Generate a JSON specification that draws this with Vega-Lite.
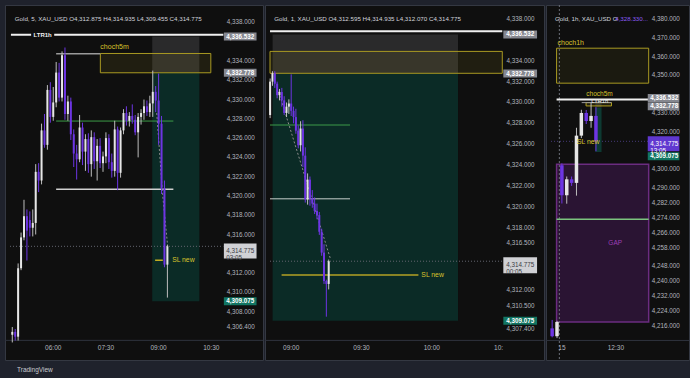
{
"$schema":"https://vega.github.io/schema/vega-lite/v6.json",
"background":"#1f222c",
"padding":{"left":4,"top":4,"right":2,"bottom":8},
"title":{"text":"TradingView","orient":"bottom","anchor":"start","offset":6,"dx":13,"fontSize":6.5,"fontWeight":"normal","color":"#c8cad0","font":"Liberation Sans"},
"spacing":2,
"bounds":"flush",
"datasets":{
"c1":[
{"m":290,"o":4305.6,"h":4306.4,"l":4304.8,"c":4305.9},
{"m":295,"o":4305.9,"h":4306.2,"l":4305.0,"c":4305.4},
{"m":300,"o":4305.4,"h":4313.0,"l":4305.0,"c":4312.5},
{"m":305,"o":4312.5,"h":4316.2,"l":4312.3,"c":4315.7},
{"m":310,"o":4315.7,"h":4319.6,"l":4315.4,"c":4317.9},
{"m":315,"o":4317.9,"h":4318.6,"l":4313.3,"c":4316.4},
{"m":320,"o":4317.5,"h":4318.4,"l":4315.8,"c":4316.7},
{"m":325,"o":4316.7,"h":4318.6,"l":4315.8,"c":4317.2},
{"m":330,"o":4317.2,"h":4323.3,"l":4316.0,"c":4322.5},
{"m":335,"o":4322.5,"h":4323.4,"l":4320.4,"c":4321.6},
{"m":340,"o":4321.6,"h":4327.5,"l":4321.2,"c":4326.8},
{"m":345,"o":4326.8,"h":4328.5,"l":4325.0,"c":4325.3},
{"m":350,"o":4325.3,"h":4331.5,"l":4324.8,"c":4331.0},
{"m":355,"o":4331.0,"h":4331.8,"l":4327.6,"c":4328.2},
{"m":360,"o":4328.2,"h":4331.3,"l":4327.8,"c":4329.7},
{"m":365,"o":4329.7,"h":4333.9,"l":4329.2,"c":4332.8},
{"m":370,"o":4332.8,"h":4333.8,"l":4329.8,"c":4330.2},
{"m":375,"o":4330.2,"h":4335.0,"l":4329.8,"c":4334.6},
{"m":380,"o":4334.6,"h":4335.4,"l":4327.9,"c":4328.5},
{"m":385,"o":4328.5,"h":4330.4,"l":4327.8,"c":4329.8},
{"m":390,"o":4329.8,"h":4330.2,"l":4325.8,"c":4326.4},
{"m":395,"o":4326.4,"h":4326.9,"l":4323.0,"c":4324.4},
{"m":400,"o":4324.4,"h":4325.3,"l":4321.7,"c":4323.8},
{"m":405,"o":4323.8,"h":4328.4,"l":4323.5,"c":4327.1},
{"m":410,"o":4327.1,"h":4327.6,"l":4323.2,"c":4324.6},
{"m":415,"o":4324.6,"h":4326.4,"l":4322.6,"c":4325.9},
{"m":420,"o":4325.9,"h":4326.5,"l":4322.4,"c":4323.3},
{"m":425,"o":4323.3,"h":4326.8,"l":4322.0,"c":4326.1},
{"m":430,"o":4326.1,"h":4326.6,"l":4322.8,"c":4323.6},
{"m":435,"o":4323.6,"h":4325.9,"l":4321.6,"c":4325.2},
{"m":440,"o":4325.2,"h":4326.0,"l":4322.9,"c":4323.4},
{"m":445,"o":4323.4,"h":4324.6,"l":4322.5,"c":4324.1},
{"m":450,"o":4324.1,"h":4326.6,"l":4323.4,"c":4326.0},
{"m":455,"o":4326.0,"h":4326.4,"l":4322.8,"c":4323.5},
{"m":460,"o":4323.5,"h":4324.4,"l":4321.9,"c":4322.6},
{"m":465,"o":4322.6,"h":4327.8,"l":4322.0,"c":4326.9},
{"m":470,"o":4326.9,"h":4327.2,"l":4320.6,"c":4322.4},
{"m":475,"o":4322.4,"h":4327.1,"l":4321.9,"c":4326.8},
{"m":480,"o":4326.8,"h":4329.0,"l":4326.4,"c":4328.6},
{"m":485,"o":4328.6,"h":4329.3,"l":4327.3,"c":4327.8},
{"m":490,"o":4327.8,"h":4328.7,"l":4327.2,"c":4328.3},
{"m":495,"o":4328.3,"h":4329.5,"l":4327.5,"c":4327.9},
{"m":500,"o":4327.9,"h":4328.4,"l":4326.3,"c":4326.6},
{"m":505,"o":4326.6,"h":4328.6,"l":4324.0,"c":4328.2},
{"m":510,"o":4328.2,"h":4329.0,"l":4327.4,"c":4328.6},
{"m":515,"o":4328.6,"h":4330.0,"l":4327.9,"c":4329.3},
{"m":520,"o":4329.3,"h":4329.9,"l":4328.3,"c":4328.7},
{"m":525,"o":4328.7,"h":4330.4,"l":4328.2,"c":4329.6},
{"m":530,"o":4329.6,"h":4333.0,"l":4328.2,"c":4330.8},
{"m":535,"o":4330.8,"h":4331.4,"l":4328.7,"c":4329.9},
{"m":540,"o":4329.9,"h":4332.7,"l":4325.3,"c":4327.5},
{"m":545,"o":4327.5,"h":4328.3,"l":4320.2,"c":4320.8},
{"m":550,"o":4320.8,"h":4321.6,"l":4312.6,"c":4312.875},
{"m":555,"o":4312.875,"h":4314.935,"l":4309.455,"c":4314.775}
],
"c2":[
{"m":531,"o":4328.8,"h":4332.3,"l":4328.5,"c":4332.0},
{"m":532,"o":4332.0,"h":4333.0,"l":4331.6,"c":4332.8},
{"m":533,"o":4332.8,"h":4333.0,"l":4331.4,"c":4331.8},
{"m":534,"o":4331.8,"h":4332.0,"l":4330.4,"c":4330.7},
{"m":535,"o":4330.7,"h":4331.3,"l":4330.2,"c":4331.0},
{"m":536,"o":4331.0,"h":4331.4,"l":4329.6,"c":4330.2},
{"m":537,"o":4330.2,"h":4330.6,"l":4328.8,"c":4329.0},
{"m":538,"o":4329.0,"h":4330.0,"l":4328.6,"c":4329.6},
{"m":539,"o":4329.6,"h":4330.3,"l":4328.9,"c":4329.9},
{"m":540,"o":4329.9,"h":4332.7,"l":4328.7,"c":4329.2},
{"m":541,"o":4329.2,"h":4329.6,"l":4328.0,"c":4328.6},
{"m":542,"o":4328.6,"h":4329.4,"l":4327.0,"c":4327.3},
{"m":543,"o":4327.3,"h":4327.8,"l":4325.6,"c":4325.9},
{"m":544,"o":4325.9,"h":4328.2,"l":4325.3,"c":4327.5},
{"m":545,"o":4327.5,"h":4328.3,"l":4323.8,"c":4324.9},
{"m":546,"o":4324.9,"h":4325.7,"l":4320.4,"c":4320.7},
{"m":547,"o":4320.7,"h":4323.2,"l":4320.2,"c":4322.6},
{"m":548,"o":4322.6,"h":4322.9,"l":4320.1,"c":4320.8},
{"m":549,"o":4320.8,"h":4321.6,"l":4319.9,"c":4320.3},
{"m":550,"o":4320.3,"h":4320.9,"l":4319.3,"c":4319.6},
{"m":551,"o":4319.6,"h":4320.3,"l":4318.8,"c":4319.2},
{"m":552,"o":4319.2,"h":4319.5,"l":4317.3,"c":4317.6},
{"m":553,"o":4317.6,"h":4317.9,"l":4315.3,"c":4315.6},
{"m":554,"o":4315.6,"h":4316.4,"l":4312.6,"c":4312.875},
{"m":555,"o":4312.875,"h":4313.0,"l":4309.455,"c":4312.595},
{"m":556,"o":4312.595,"h":4314.935,"l":4312.07,"c":4314.775}
],
"c3":[
{"m":-2,"o":4215.0,"h":4219.5,"l":4210.2,"c":4210.8},
{"m":-1,"o":4210.8,"h":4219.0,"l":4209.8,"c":4218.4},
{"m":0,"o":4302.0,"h":4303.0,"l":4281.6,"c":4286.0},
{"m":1,"o":4286.0,"h":4296.0,"l":4281.5,"c":4294.5},
{"m":2,"o":4294.5,"h":4296.0,"l":4291.0,"c":4292.6},
{"m":3,"o":4292.6,"h":4322.0,"l":4285.8,"c":4317.8},
{"m":4,"o":4317.8,"h":4331.6,"l":4316.5,"c":4329.9},
{"m":5,"o":4329.9,"h":4331.5,"l":4324.0,"c":4325.6},
{"m":6,"o":4325.6,"h":4335.4,"l":4322.0,"c":4328.33},
{"m":7,"o":4328.33,"h":4333.0,"l":4309.455,"c":4314.775}
]
},
"hconcat":[
{
"width":258,"height":355,
"layer":[
{"data":{"values":[{"a":529.1,"b":609.6,"lo":4332.778,"hi":4336.532}]},"mark":{"type":"rect","color":"#2a2a2b"},
 "encoding":{"x":{"field":"a","type":"quantitative","scale":{"domain":[286.1,709.8],"nice":false,"zero":false},"axis":null},"x2":{"field":"b"},"y":{"field":"lo","type":"quantitative","scale":{"domain":[4303.5,4339.29],"nice":false,"zero":false},"axis":null},"y2":{"field":"hi"}}},
{"data":{"values":[{"a":529.1,"b":609.6,"lo":4309.075,"hi":4332.778}]},"mark":{"type":"rect","color":"#0b2b26"},
 "encoding":{"x":{"field":"a","type":"quantitative","scale":{"domain":[286.1,709.8],"nice":false,"zero":false},"axis":null},"x2":{"field":"b"},"y":{"field":"lo","type":"quantitative","scale":{"domain":[4303.5,4339.29],"nice":false,"zero":false},"axis":null},"y2":{"field":"hi"}}},
{"data":{"values":[{"a":440.45,"b":629.2,"lo":4332.778,"hi":4334.78}]},"mark":{"type":"rect","fill":"#b8a52a","fillOpacity":0.1,"stroke":"#a99a22","strokeWidth":1},
 "encoding":{"x":{"field":"a","type":"quantitative","scale":{"domain":[286.1,709.8],"nice":false,"zero":false},"axis":null},"x2":{"field":"b"},"y":{"field":"lo","type":"quantitative","scale":{"domain":[4303.5,4339.29],"nice":false,"zero":false},"axis":null},"y2":{"field":"hi"}}},
{"data":{"values":[{}]},"mark":{"type":"rule","color":"#2f333e","strokeWidth":1},
 "encoding":{"y":{"datum":4305.02,"type":"quantitative","scale":{"domain":[4303.5,4339.29],"nice":false,"zero":false},"axis":null}}},
{"data":{"values":[{"a":287.7,"b":650.6,"v":4336.72}]},"mark":{"type":"rule","color":"#f0f0f0","strokeWidth":2},
 "encoding":{"x":{"field":"a","type":"quantitative","scale":{"domain":[286.1,709.8],"nice":false,"zero":false},"axis":null},"x2":{"field":"b"},"y":{"field":"v","type":"quantitative","scale":{"domain":[4303.5,4339.29],"nice":false,"zero":false},"axis":null}}},
{"data":{"values":[{"a":364.9,"b":440.45,"v":4334.75}]},"mark":{"type":"rule","color":"#9a9a9a","strokeWidth":1.5},
 "encoding":{"x":{"field":"a","type":"quantitative","scale":{"domain":[286.1,709.8],"nice":false,"zero":false},"axis":null},"x2":{"field":"b"},"y":{"field":"v","type":"quantitative","scale":{"domain":[4303.5,4339.29],"nice":false,"zero":false},"axis":null}}},
{"data":{"values":[{"a":364.9,"b":565.2,"v":4327.77}]},"mark":{"type":"rule","color":"#3c9b48","strokeWidth":1},
 "encoding":{"x":{"field":"a","type":"quantitative","scale":{"domain":[286.1,709.8],"nice":false,"zero":false},"axis":null},"x2":{"field":"b"},"y":{"field":"v","type":"quantitative","scale":{"domain":[4303.5,4339.29],"nice":false,"zero":false},"axis":null}}},
{"data":{"values":[{"a":364.9,"b":565.2,"v":4320.69}]},"mark":{"type":"rule","color":"#d0d0d0","strokeWidth":1.5},
 "encoding":{"x":{"field":"a","type":"quantitative","scale":{"domain":[286.1,709.8],"nice":false,"zero":false},"axis":null},"x2":{"field":"b"},"y":{"field":"v","type":"quantitative","scale":{"domain":[4303.5,4339.29],"nice":false,"zero":false},"axis":null}}},
{"data":{"values":[{"a":286.1,"b":650.6,"v":4314.775}]},"mark":{"type":"rule","color":"#62656f","strokeWidth":1,"strokeDash":[1,2]},
 "encoding":{"x":{"field":"a","type":"quantitative","scale":{"domain":[286.1,709.8],"nice":false,"zero":false},"axis":null},"x2":{"field":"b"},"y":{"field":"v","type":"quantitative","scale":{"domain":[4303.5,4339.29],"nice":false,"zero":false},"axis":null}}},
{"data":{"values":[{"a":534.0,"b":547.2,"v":4313.33}]},"mark":{"type":"rule","color":"#c2ad22","strokeWidth":1.5},
 "encoding":{"x":{"field":"a","type":"quantitative","scale":{"domain":[286.1,709.8],"nice":false,"zero":false},"axis":null},"x2":{"field":"b"},"y":{"field":"v","type":"quantitative","scale":{"domain":[4303.5,4339.29],"nice":false,"zero":false},"axis":null}}},
{"data":{"values":[{"m":536.8,"v":4328.6},{"m":546.7,"v":4320.24},{"m":555.4,"v":4314.82}]},"mark":{"type":"line","color":"#8c8c8c","strokeWidth":1,"strokeDash":[2,2]},
 "encoding":{"x":{"field":"m","type":"quantitative","scale":{"domain":[286.1,709.8],"nice":false,"zero":false},"axis":null},"y":{"field":"v","type":"quantitative","scale":{"domain":[4303.5,4339.29],"nice":false,"zero":false},"axis":null}}},
{"data":{"name":"c1"},"mark":{"type":"rule","strokeWidth":1},
 "encoding":{"x":{"field":"m","type":"quantitative","scale":{"domain":[286.1,709.8],"nice":false,"zero":false},"axis":null},
  "y":{"field":"l","type":"quantitative","scale":{"domain":[4303.5,4339.29],"nice":false,"zero":false},"axis":null},
  "y2":{"field":"h"},
  "color":{"condition":{"test":"datum.c >= datum.o","value":"#bdbdbd"},"value":"#6d35e3"}}},
{"data":{"name":"c1"},"mark":{"type":"bar","width":2},
 "encoding":{"x":{"field":"m","type":"quantitative","scale":{"domain":[286.1,709.8],"nice":false,"zero":false},"axis":null},"y":{"field":"o","type":"quantitative","scale":{"domain":[4303.5,4339.29],"nice":false,"zero":false},"axis":null},"y2":{"field":"c"},
  "color":{"condition":{"test":"datum.c >= datum.o","value":"#e6e6e6"},"value":"#6d35e3"}}},
{"data":{"values":[{"p":4338},{"p":4334},{"p":4332},{"p":4330},{"p":4328},{"p":4326},{"p":4324},{"p":4322},{"p":4320},{"p":4318},{"p":4316},{"p":4312},{"p":4310},{"p":4308},{"p":4306.4}]},
 "mark":{"type":"text","align":"left","baseline":"middle","color":"#b2b5be","fontSize":6.3,"font":"Liberation Sans"},
 "encoding":{"x":{"datum":656.4,"type":"quantitative","scale":{"domain":[286.1,709.8],"nice":false,"zero":false},"axis":null},"y":{"field":"p","type":"quantitative","scale":{"domain":[4303.5,4339.29],"nice":false,"zero":false},"axis":null},"text":{"field":"p","type":"quantitative","format":",.3f"}}},
{"data":{"values":[{"t":360,"s":"06:00"},{"t":450,"s":"07:30"},{"t":540,"s":"09:00"},{"t":630,"s":"10:30"}]},
 "mark":{"type":"text","align":"center","baseline":"middle","color":"#b2b5be","fontSize":6.5,"font":"Liberation Sans"},
 "encoding":{"x":{"field":"t","type":"quantitative","scale":{"domain":[286.1,709.8],"nice":false,"zero":false},"axis":null},"y":{"datum":4304.21,"type":"quantitative","scale":{"domain":[4303.5,4339.29],"nice":false,"zero":false},"axis":null},"text":{"field":"s"}}},
{"data":{"values":[{}]},"mark":{"type":"text","text":"choch5m","align":"left","baseline":"middle","color":"#d9c42c","fontSize":7,"font":"Liberation Sans"},
 "encoding":{"x":{"datum":440.45,"type":"quantitative","scale":{"domain":[286.1,709.8],"nice":false,"zero":false},"axis":null},"y":{"datum":4335.46,"type":"quantitative","scale":{"domain":[4303.5,4339.29],"nice":false,"zero":false},"axis":null}}},
{"data":{"values":[{}]},"mark":{"type":"text","text":"SL new","align":"left","baseline":"middle","color":"#d9c42c","fontSize":6.8,"font":"Liberation Sans"},
 "encoding":{"x":{"datum":563.1,"type":"quantitative","scale":{"domain":[286.1,709.8],"nice":false,"zero":false},"axis":null},"y":{"datum":4313.33,"type":"quantitative","scale":{"domain":[4303.5,4339.29],"nice":false,"zero":false},"axis":null}}},
{"data":{"values":[{}]},"mark":{"type":"bar","height":8,"color":"#0f0f0f"},
 "encoding":{"x":{"datum":322.2,"type":"quantitative","scale":{"domain":[286.1,709.8],"nice":false,"zero":false},"axis":null},"x2":{"datum":361.6},"y":{"datum":4336.72,"type":"quantitative","scale":{"domain":[4303.5,4339.29],"nice":false,"zero":false},"axis":null}}},
{"data":{"values":[{}]},"mark":{"type":"text","text":"LTR1h","align":"center","baseline":"middle","color":"#f0f0f0","fontSize":6,"fontWeight":"bold","font":"Liberation Sans"},
 "encoding":{"x":{"datum":341.9,"type":"quantitative","scale":{"domain":[286.1,709.8],"nice":false,"zero":false},"axis":null},"y":{"datum":4336.72,"type":"quantitative","scale":{"domain":[4303.5,4339.29],"nice":false,"zero":false},"axis":null}}},
{"data":{"values":[{"v":4336.532},{"v":4332.778}]},"mark":{"type":"bar","height":8,"color":"#85878f"},
 "encoding":{"x":{"datum":651.5,"type":"quantitative","scale":{"domain":[286.1,709.8],"nice":false,"zero":false},"axis":null},"x2":{"datum":707.3},"y":{"field":"v","type":"quantitative","scale":{"domain":[4303.5,4339.29],"nice":false,"zero":false},"axis":null}}},
{"data":{"values":[{"v":4314.29}]},"mark":{"type":"bar","height":15,"color":"#d0d1d5"},
 "encoding":{"x":{"datum":651.5,"type":"quantitative","scale":{"domain":[286.1,709.8],"nice":false,"zero":false},"axis":null},"x2":{"datum":707.3},"y":{"field":"v","type":"quantitative","scale":{"domain":[4303.5,4339.29],"nice":false,"zero":false},"axis":null}}},
{"data":{"values":[{"v":4309.075}]},"mark":{"type":"bar","height":8,"color":"#127562"},
 "encoding":{"x":{"datum":651.5,"type":"quantitative","scale":{"domain":[286.1,709.8],"nice":false,"zero":false},"axis":null},"x2":{"datum":707.3},"y":{"field":"v","type":"quantitative","scale":{"domain":[4303.5,4339.29],"nice":false,"zero":false},"axis":null}}},
{"data":{"values":[{"v":4336.532,"t":"4,336.532"},{"v":4332.778,"t":"4,332.778"},{"v":4309.075,"t":"4,309.075"}]},"mark":{"type":"text","align":"left","baseline":"middle","color":"#ffffff","fontSize":6.3,"fontWeight":"bold","font":"Liberation Sans"},
 "encoding":{"x":{"datum":655.6,"type":"quantitative","scale":{"domain":[286.1,709.8],"nice":false,"zero":false},"axis":null},"y":{"field":"v","type":"quantitative","scale":{"domain":[4303.5,4339.29],"nice":false,"zero":false},"axis":null},"text":{"field":"t"}}},
{"data":{"values":[{}]},"mark":{"type":"text","text":["4,314.775","03:05"],"lineHeight":7,"align":"left","baseline":"middle","color":"#3a3c44","fontSize":6.3,"font":"Liberation Sans"},
 "encoding":{"x":{"datum":655.6,"type":"quantitative","scale":{"domain":[286.1,709.8],"nice":false,"zero":false},"axis":null},"y":{"datum":4314.29,"type":"quantitative","scale":{"domain":[4303.5,4339.29],"nice":false,"zero":false},"axis":null}}},
{"data":{"values":[{}]},"mark":{"type":"text","text":"Gold, 5, XAU_USD O4,312.875 H4,314.935 L4,309.455 C4,314.775","align":"left","baseline":"middle","color":"#d1d4dc","fontSize":6.2,"font":"Liberation Sans"},
 "encoding":{"x":{"datum":294.3,"type":"quantitative","scale":{"domain":[286.1,709.8],"nice":false,"zero":false},"axis":null},"y":{"datum":4338.35,"type":"quantitative","scale":{"domain":[4303.5,4339.29],"nice":false,"zero":false},"axis":null}}}
]
},
{
"width":279,"height":355,
"layer":[
{"data":{"values":[{"a":532.06,"b":611.2,"lo":4332.778,"hi":4336.532}]},"mark":{"type":"rect","color":"#2a2a2b"},
 "encoding":{"x":{"field":"a","type":"quantitative","scale":{"domain":[530.95,645.77],"nice":false,"zero":false},"axis":null},"x2":{"field":"b"},"y":{"field":"lo","type":"quantitative","scale":{"domain":[4305.78,4338.87],"nice":false,"zero":false},"axis":null},"y2":{"field":"hi"}}},
{"data":{"values":[{"a":532.06,"b":611.2,"lo":4309.075,"hi":4332.778}]},"mark":{"type":"rect","color":"#0b2b26"},
 "encoding":{"x":{"field":"a","type":"quantitative","scale":{"domain":[530.95,645.77],"nice":false,"zero":false},"axis":null},"x2":{"field":"b"},"y":{"field":"lo","type":"quantitative","scale":{"domain":[4305.78,4338.87],"nice":false,"zero":false},"axis":null},"y2":{"field":"hi"}}},
{"data":{"values":[{"a":530.95,"b":630.1,"lo":4332.8,"hi":4334.9}]},"mark":{"type":"rect","fill":"#b8a52a","fillOpacity":0.1,"stroke":"#a99a22","strokeWidth":1},
 "encoding":{"x":{"field":"a","type":"quantitative","scale":{"domain":[530.95,645.77],"nice":false,"zero":false},"axis":null},"x2":{"field":"b"},"y":{"field":"lo","type":"quantitative","scale":{"domain":[4305.78,4338.87],"nice":false,"zero":false},"axis":null},"y2":{"field":"hi"}}},
{"data":{"values":[{}]},"mark":{"type":"rule","color":"#2f333e","strokeWidth":1},
 "encoding":{"y":{"datum":4307.18,"type":"quantitative","scale":{"domain":[4305.78,4338.87],"nice":false,"zero":false},"axis":null}}},
{"data":{"values":[{"a":530.95,"b":630.1,"v":4336.82}]},"mark":{"type":"rule","color":"#f0f0f0","strokeWidth":2},
 "encoding":{"x":{"field":"a","type":"quantitative","scale":{"domain":[530.95,645.77],"nice":false,"zero":false},"axis":null},"x2":{"field":"b"},"y":{"field":"v","type":"quantitative","scale":{"domain":[4305.78,4338.87],"nice":false,"zero":false},"axis":null}}},
{"data":{"values":[{"a":530.95,"b":565.1,"v":4327.84}]},"mark":{"type":"rule","color":"#3c9b48","strokeWidth":1},
 "encoding":{"x":{"field":"a","type":"quantitative","scale":{"domain":[530.95,645.77],"nice":false,"zero":false},"axis":null},"x2":{"field":"b"},"y":{"field":"v","type":"quantitative","scale":{"domain":[4305.78,4338.87],"nice":false,"zero":false},"axis":null}}},
{"data":{"values":[{"a":530.95,"b":565.1,"v":4320.76}]},"mark":{"type":"rule","color":"#c8d0cc","strokeWidth":1},
 "encoding":{"x":{"field":"a","type":"quantitative","scale":{"domain":[530.95,645.77],"nice":false,"zero":false},"axis":null},"x2":{"field":"b"},"y":{"field":"v","type":"quantitative","scale":{"domain":[4305.78,4338.87],"nice":false,"zero":false},"axis":null}}},
{"data":{"values":[{"a":530.95,"b":630.5,"v":4314.775}]},"mark":{"type":"rule","color":"#62656f","strokeWidth":1,"strokeDash":[1,2]},
 "encoding":{"x":{"field":"a","type":"quantitative","scale":{"domain":[530.95,645.77],"nice":false,"zero":false},"axis":null},"x2":{"field":"b"},"y":{"field":"v","type":"quantitative","scale":{"domain":[4305.78,4338.87],"nice":false,"zero":false},"axis":null}}},
{"data":{"values":[{"a":535.9,"b":594.3,"v":4313.45}]},"mark":{"type":"rule","color":"#b5a224","strokeWidth":1.5},
 "encoding":{"x":{"field":"a","type":"quantitative","scale":{"domain":[530.95,645.77],"nice":false,"zero":false},"axis":null},"x2":{"field":"b"},"y":{"field":"v","type":"quantitative","scale":{"domain":[4305.78,4338.87],"nice":false,"zero":false},"axis":null}}},
{"data":{"values":[{"m":534.65,"v":4331.03},{"m":556.75,"v":4315.0}]},"mark":{"type":"line","color":"#8c8c8c","strokeWidth":1,"strokeDash":[2,2]},
 "encoding":{"x":{"field":"m","type":"quantitative","scale":{"domain":[530.95,645.77],"nice":false,"zero":false},"axis":null},"y":{"field":"v","type":"quantitative","scale":{"domain":[4305.78,4338.87],"nice":false,"zero":false},"axis":null}}},
{"data":{"name":"c2"},"mark":{"type":"rule","strokeWidth":1},
 "encoding":{"x":{"field":"m","type":"quantitative","scale":{"domain":[530.95,645.77],"nice":false,"zero":false},"axis":null},
  "y":{"field":"l","type":"quantitative","scale":{"domain":[4305.78,4338.87],"nice":false,"zero":false},"axis":null},
  "y2":{"field":"h"},
  "color":{"condition":{"test":"datum.c >= datum.o","value":"#bdbdbd"},"value":"#6d35e3"}}},
{"data":{"name":"c2"},"mark":{"type":"bar","width":2},
 "encoding":{"x":{"field":"m","type":"quantitative","scale":{"domain":[530.95,645.77],"nice":false,"zero":false},"axis":null},"y":{"field":"o","type":"quantitative","scale":{"domain":[4305.78,4338.87],"nice":false,"zero":false},"axis":null},"y2":{"field":"c"},
  "color":{"condition":{"test":"datum.c >= datum.o","value":"#e6e6e6"},"value":"#6d35e3"}}},
{"data":{"values":[{"p":4338},{"p":4334},{"p":4332},{"p":4330},{"p":4328},{"p":4326},{"p":4324},{"p":4322},{"p":4320},{"p":4318},{"p":4316.5},{"p":4312},{"p":4310.5}]},
 "mark":{"type":"text","align":"left","baseline":"middle","color":"#b2b5be","fontSize":6.3,"font":"Liberation Sans"},
 "encoding":{"x":{"datum":631.9,"type":"quantitative","scale":{"domain":[530.95,645.77],"nice":false,"zero":false},"axis":null},"y":{"field":"p","type":"quantitative","scale":{"domain":[4305.78,4338.87],"nice":false,"zero":false},"axis":null},"text":{"field":"p","type":"quantitative","format":",.3f"}}},
{"data":{"values":[{}]},"mark":{"type":"text","text":"4,307.400","align":"left","baseline":"middle","color":"#b2b5be","fontSize":6.3,"font":"Liberation Sans"},
 "encoding":{"x":{"datum":631.9,"type":"quantitative","scale":{"domain":[530.95,645.77],"nice":false,"zero":false},"axis":null},"y":{"datum":4308.3,"type":"quantitative","scale":{"domain":[4305.78,4338.87],"nice":false,"zero":false},"axis":null}}},
{"data":{"values":[{"t":540,"s":"09:00"},{"t":570,"s":"09:30"},{"t":600,"s":"10:00"},{"t":628.5,"s":"10:"}]},
 "mark":{"type":"text","align":"center","baseline":"middle","color":"#b2b5be","fontSize":6.5,"font":"Liberation Sans"},
 "encoding":{"x":{"field":"t","type":"quantitative","scale":{"domain":[530.95,645.77],"nice":false,"zero":false},"axis":null},"y":{"datum":4306.43,"type":"quantitative","scale":{"domain":[4305.78,4338.87],"nice":false,"zero":false},"axis":null},"text":{"field":"s"}}},
{"data":{"values":[{}]},"mark":{"type":"text","text":"SL new","align":"left","baseline":"middle","color":"#d9c42c","fontSize":6.8,"font":"Liberation Sans"},
 "encoding":{"x":{"datum":595.56,"type":"quantitative","scale":{"domain":[530.95,645.77],"nice":false,"zero":false},"axis":null},"y":{"datum":4313.45,"type":"quantitative","scale":{"domain":[4305.78,4338.87],"nice":false,"zero":false},"axis":null}}},
{"data":{"values":[{"v":4336.532},{"v":4332.778}]},"mark":{"type":"bar","height":8,"color":"#85878f"},
 "encoding":{"x":{"datum":630.54,"type":"quantitative","scale":{"domain":[530.95,645.77],"nice":false,"zero":false},"axis":null},"x2":{"datum":644.94},"y":{"field":"v","type":"quantitative","scale":{"domain":[4305.78,4338.87],"nice":false,"zero":false},"axis":null}}},
{"data":{"values":[{"v":4314.4}]},"mark":{"type":"bar","height":16,"color":"#d0d1d5"},
 "encoding":{"x":{"datum":630.54,"type":"quantitative","scale":{"domain":[530.95,645.77],"nice":false,"zero":false},"axis":null},"x2":{"datum":644.94},"y":{"field":"v","type":"quantitative","scale":{"domain":[4305.78,4338.87],"nice":false,"zero":false},"axis":null}}},
{"data":{"values":[{"v":4309.075}]},"mark":{"type":"bar","height":8,"color":"#127562"},
 "encoding":{"x":{"datum":630.54,"type":"quantitative","scale":{"domain":[530.95,645.77],"nice":false,"zero":false},"axis":null},"x2":{"datum":644.94},"y":{"field":"v","type":"quantitative","scale":{"domain":[4305.78,4338.87],"nice":false,"zero":false},"axis":null}}},
{"data":{"values":[{"v":4336.532,"t":"4,336.532"},{"v":4332.778,"t":"4,332.778"},{"v":4309.075,"t":"4,309.075"}]},"mark":{"type":"text","align":"left","baseline":"middle","color":"#ffffff","fontSize":6.3,"fontWeight":"bold","font":"Liberation Sans"},
 "encoding":{"x":{"datum":631.77,"type":"quantitative","scale":{"domain":[530.95,645.77],"nice":false,"zero":false},"axis":null},"y":{"field":"v","type":"quantitative","scale":{"domain":[4305.78,4338.87],"nice":false,"zero":false},"axis":null},"text":{"field":"t"}}},
{"data":{"values":[{}]},"mark":{"type":"text","text":["4,314.775","00:05"],"lineHeight":7,"align":"left","baseline":"middle","color":"#3a3c44","fontSize":6.3,"font":"Liberation Sans"},
 "encoding":{"x":{"datum":631.77,"type":"quantitative","scale":{"domain":[530.95,645.77],"nice":false,"zero":false},"axis":null},"y":{"datum":4314.4,"type":"quantitative","scale":{"domain":[4305.78,4338.87],"nice":false,"zero":false},"axis":null}}},
{"data":{"values":[{}]},"mark":{"type":"text","text":"Gold, 1, XAU_USD O4,312.595 H4,314.935 L4,312.070 C4,314.775","align":"left","baseline":"middle","color":"#d1d4dc","fontSize":6.2,"font":"Liberation Sans"},
 "encoding":{"x":{"datum":532.72,"type":"quantitative","scale":{"domain":[530.95,645.77],"nice":false,"zero":false},"axis":null},"y":{"datum":4338.0,"type":"quantitative","scale":{"domain":[4305.78,4338.87],"nice":false,"zero":false},"axis":null}}}
]
},
{
"width":143,"height":355,
"layer":[
{"data":{"values":[{"a":-1.09,"b":17.84,"lo":4218.4,"hi":4302.55}]},"mark":{"type":"rect","fill":"#2a1433","stroke":"#6b2c80","strokeWidth":1.5},
 "encoding":{"x":{"field":"a","type":"quantitative","scale":{"domain":[-2.237,25.1],"nice":false,"zero":false},"axis":null},"x2":{"field":"b"},"y":{"field":"lo","type":"quantitative","scale":{"domain":[4200.79,4384.82],"nice":false,"zero":false},"axis":null},"y2":{"field":"hi"}}},
{"data":{"values":[{"a":-1.09,"b":17.84,"lo":4345.79,"hi":4364.45}]},"mark":{"type":"rect","fill":"#b8a52a","fillOpacity":0.08,"stroke":"#a99a22","strokeWidth":1},
 "encoding":{"x":{"field":"a","type":"quantitative","scale":{"domain":[-2.237,25.1],"nice":false,"zero":false},"axis":null},"x2":{"field":"b"},"y":{"field":"lo","type":"quantitative","scale":{"domain":[4200.79,4384.82],"nice":false,"zero":false},"axis":null},"y2":{"field":"hi"}}},
{"data":{"values":[{"a":6.88,"b":8.15,"lo":4332.778,"hi":4336.532}]},"mark":{"type":"rect","color":"#2a2a2b"},
 "encoding":{"x":{"field":"a","type":"quantitative","scale":{"domain":[-2.237,25.1],"nice":false,"zero":false},"axis":null},"x2":{"field":"b"},"y":{"field":"lo","type":"quantitative","scale":{"domain":[4200.79,4384.82],"nice":false,"zero":false},"axis":null},"y2":{"field":"hi"}}},
{"data":{"values":[{"a":6.88,"b":8.15,"lo":4309.075,"hi":4332.778}]},"mark":{"type":"rect","color":"#0d3a32"},
 "encoding":{"x":{"field":"a","type":"quantitative","scale":{"domain":[-2.237,25.1],"nice":false,"zero":false},"axis":null},"x2":{"field":"b"},"y":{"field":"lo","type":"quantitative","scale":{"domain":[4200.79,4384.82],"nice":false,"zero":false},"axis":null},"y2":{"field":"hi"}}},
{"data":{"values":[{"a":4.97,"b":10.19,"lo":4333.65,"hi":4335.42}]},"mark":{"type":"rect","fill":"#b8a52a","fillOpacity":0.1,"stroke":"#b3a21f","strokeWidth":1},
 "encoding":{"x":{"field":"a","type":"quantitative","scale":{"domain":[-2.237,25.1],"nice":false,"zero":false},"axis":null},"x2":{"field":"b"},"y":{"field":"lo","type":"quantitative","scale":{"domain":[4200.79,4384.82],"nice":false,"zero":false},"axis":null},"y2":{"field":"hi"}}},
{"data":{"values":[{}]},"mark":{"type":"rule","color":"#2f333e","strokeWidth":1},
 "encoding":{"y":{"datum":4208.56,"type":"quantitative","scale":{"domain":[4200.79,4384.82],"nice":false,"zero":false},"axis":null}}},
{"data":{"values":[{}]},"mark":{"type":"rule","color":"#6b6e78","strokeWidth":1,"strokeDash":[2,2]},
 "encoding":{"x":{"datum":-0.52,"type":"quantitative","scale":{"domain":[-2.237,25.1],"nice":false,"zero":false},"axis":null}}},
{"data":{"values":[{"a":-1.09,"b":17.84,"v":4337.13}]},"mark":{"type":"rule","color":"#f0f0f0","strokeWidth":2},
 "encoding":{"x":{"field":"a","type":"quantitative","scale":{"domain":[-2.237,25.1],"nice":false,"zero":false},"axis":null},"x2":{"field":"b"},"y":{"field":"v","type":"quantitative","scale":{"domain":[4200.79,4384.82],"nice":false,"zero":false},"axis":null}}},
{"data":{"values":[{"a":4.07,"b":10.19,"v":4335.42}]},"mark":{"type":"rule","color":"#9a9a9a","strokeWidth":1},
 "encoding":{"x":{"field":"a","type":"quantitative","scale":{"domain":[-2.237,25.1],"nice":false,"zero":false},"axis":null},"x2":{"field":"b"},"y":{"field":"v","type":"quantitative","scale":{"domain":[4200.79,4384.82],"nice":false,"zero":false},"axis":null}}},
{"data":{"values":[{"a":-1.09,"b":17.84,"v":4273.2}]},"mark":{"type":"rule","color":"#7cc47f","strokeWidth":1.5},
 "encoding":{"x":{"field":"a","type":"quantitative","scale":{"domain":[-2.237,25.1],"nice":false,"zero":false},"axis":null},"x2":{"field":"b"},"y":{"field":"v","type":"quantitative","scale":{"domain":[4200.79,4384.82],"nice":false,"zero":false},"axis":null}}},
{"data":{"values":[{"a":-2.237,"b":17.84,"v":4314.775}]},"mark":{"type":"rule","color":"#453a78","strokeWidth":1,"strokeDash":[1,2]},
 "encoding":{"x":{"field":"a","type":"quantitative","scale":{"domain":[-2.237,25.1],"nice":false,"zero":false},"axis":null},"x2":{"field":"b"},"y":{"field":"v","type":"quantitative","scale":{"domain":[4200.79,4384.82],"nice":false,"zero":false},"axis":null}}},
{"data":{"name":"c3"},"mark":{"type":"rule","strokeWidth":1},
 "encoding":{"x":{"field":"m","type":"quantitative","scale":{"domain":[-2.237,25.1],"nice":false,"zero":false},"axis":null},
  "y":{"field":"l","type":"quantitative","scale":{"domain":[4200.79,4384.82],"nice":false,"zero":false},"axis":null},
  "y2":{"field":"h"},
  "color":{"condition":{"test":"datum.c >= datum.o","value":"#bdbdbd"},"value":"#6d35e3"}}},
{"data":{"name":"c3"},"mark":{"type":"bar","width":3.5},
 "encoding":{"x":{"field":"m","type":"quantitative","scale":{"domain":[-2.237,25.1],"nice":false,"zero":false},"axis":null},"y":{"field":"o","type":"quantitative","scale":{"domain":[4200.79,4384.82],"nice":false,"zero":false},"axis":null},"y2":{"field":"c"},
  "color":{"condition":{"test":"datum.c >= datum.o","value":"#e6e6e6"},"value":"#6d35e3"}}},
{"data":{"values":[{"p":4380},{"p":4370},{"p":4360},{"p":4350},{"p":4330},{"p":4320},{"p":4300},{"p":4290},{"p":4282},{"p":4274},{"p":4266},{"p":4258},{"p":4248},{"p":4240},{"p":4232},{"p":4224},{"p":4216}]},
 "mark":{"type":"text","align":"left","baseline":"middle","color":"#b2b5be","fontSize":6.3,"font":"Liberation Sans"},
 "encoding":{"x":{"datum":18.47,"type":"quantitative","scale":{"domain":[-2.237,25.1],"nice":false,"zero":false},"axis":null},"y":{"field":"p","type":"quantitative","scale":{"domain":[4200.79,4384.82],"nice":false,"zero":false},"axis":null},"text":{"field":"p","type":"quantitative","format":",.3f"}}},
{"data":{"values":[{"t":0,"s":"15"},{"t":11.1,"s":"12:30"}]},
 "mark":{"type":"text","align":"center","baseline":"middle","color":"#b2b5be","fontSize":6.5,"font":"Liberation Sans"},
 "encoding":{"x":{"field":"t","type":"quantitative","scale":{"domain":[-2.237,25.1],"nice":false,"zero":false},"axis":null},"y":{"datum":4204.4,"type":"quantitative","scale":{"domain":[4200.79,4384.82],"nice":false,"zero":false},"axis":null},"text":{"field":"s"}}},
{"data":{"values":[{}]},"mark":{"type":"text","text":"GAP","align":"center","baseline":"middle","color":"#9c3fb8","fontSize":6.5,"font":"Liberation Sans"},
 "encoding":{"x":{"datum":10.96,"type":"quantitative","scale":{"domain":[-2.237,25.1],"nice":false,"zero":false},"axis":null},"y":{"datum":4260.66,"type":"quantitative","scale":{"domain":[4200.79,4384.82],"nice":false,"zero":false},"axis":null}}},
{"data":{"values":[{}]},"mark":{"type":"text","text":"choch1h","align":"left","baseline":"middle","color":"#d9c42c","fontSize":7,"font":"Liberation Sans"},
 "encoding":{"x":{"datum":-0.9,"type":"quantitative","scale":{"domain":[-2.237,25.1],"nice":false,"zero":false},"axis":null},"y":{"datum":4367.2,"type":"quantitative","scale":{"domain":[4200.79,4384.82],"nice":false,"zero":false},"axis":null}}},
{"data":{"values":[{}]},"mark":{"type":"text","text":"LTR1h","align":"center","baseline":"middle","color":"#e8e8e8","fontSize":5.8,"font":"Liberation Sans"},
 "encoding":{"x":{"datum":7.8,"type":"quantitative","scale":{"domain":[-2.237,25.1],"nice":false,"zero":false},"axis":null},"y":{"datum":4336.2,"type":"quantitative","scale":{"domain":[4200.79,4384.82],"nice":false,"zero":false},"axis":null}}},
{"data":{"values":[{}]},"mark":{"type":"text","text":"choch5m","align":"left","baseline":"middle","color":"#d9c42c","fontSize":6.5,"font":"Liberation Sans"},
 "encoding":{"x":{"datum":5.03,"type":"quantitative","scale":{"domain":[-2.237,25.1],"nice":false,"zero":false},"axis":null},"y":{"datum":4339.9,"type":"quantitative","scale":{"domain":[4200.79,4384.82],"nice":false,"zero":false},"axis":null}}},
{"data":{"values":[{}]},"mark":{"type":"text","text":"SL new","align":"left","baseline":"middle","color":"#d9c42c","fontSize":6.8,"font":"Liberation Sans"},
 "encoding":{"x":{"datum":3.12,"type":"quantitative","scale":{"domain":[-2.237,25.1],"nice":false,"zero":false},"axis":null},"y":{"datum":4314.3,"type":"quantitative","scale":{"domain":[4200.79,4384.82],"nice":false,"zero":false},"axis":null}}},
{"data":{"values":[{"v":4337.9},{"v":4333.5}]},"mark":{"type":"bar","height":8,"color":"#85878f"},
 "encoding":{"x":{"datum":17.65,"type":"quantitative","scale":{"domain":[-2.237,25.1],"nice":false,"zero":false},"axis":null},"x2":{"datum":24.15},"y":{"field":"v","type":"quantitative","scale":{"domain":[4200.79,4384.82],"nice":false,"zero":false},"axis":null}}},
{"data":{"values":[{"v":4313.44}]},"mark":{"type":"bar","height":15,"color":"#6038d0"},
 "encoding":{"x":{"datum":17.65,"type":"quantitative","scale":{"domain":[-2.237,25.1],"nice":false,"zero":false},"axis":null},"x2":{"datum":24.15},"y":{"field":"v","type":"quantitative","scale":{"domain":[4200.79,4384.82],"nice":false,"zero":false},"axis":null}}},
{"data":{"values":[{"v":4306.8}]},"mark":{"type":"bar","height":8,"color":"#127562"},
 "encoding":{"x":{"datum":17.65,"type":"quantitative","scale":{"domain":[-2.237,25.1],"nice":false,"zero":false},"axis":null},"x2":{"datum":24.15},"y":{"field":"v","type":"quantitative","scale":{"domain":[4200.79,4384.82],"nice":false,"zero":false},"axis":null}}},
{"data":{"values":[{"v":4337.9,"t":"4,336.532"},{"v":4333.5,"t":"4,332.778"},{"v":4306.8,"t":"4,309.075"}]},"mark":{"type":"text","align":"left","baseline":"middle","color":"#ffffff","fontSize":6.3,"fontWeight":"bold","font":"Liberation Sans"},
 "encoding":{"x":{"datum":18.16,"type":"quantitative","scale":{"domain":[-2.237,25.1],"nice":false,"zero":false},"axis":null},"y":{"field":"v","type":"quantitative","scale":{"domain":[4200.79,4384.82],"nice":false,"zero":false},"axis":null},"text":{"field":"t"}}},
{"data":{"values":[{}]},"mark":{"type":"text","text":["4,314.775","13:05"],"lineHeight":7,"align":"left","baseline":"middle","color":"#ffffff","fontSize":6.3,"font":"Liberation Sans"},
 "encoding":{"x":{"datum":18.16,"type":"quantitative","scale":{"domain":[-2.237,25.1],"nice":false,"zero":false},"axis":null},"y":{"datum":4313.44,"type":"quantitative","scale":{"domain":[4200.79,4384.82],"nice":false,"zero":false},"axis":null}}},
{"data":{"values":[{}]},"mark":{"type":"text","text":"Gold, 1h, XAU_USD O","align":"left","baseline":"middle","color":"#d1d4dc","fontSize":6.2,"font":"Liberation Sans"},
 "encoding":{"x":{"datum":-1.415,"type":"quantitative","scale":{"domain":[-2.237,25.1],"nice":false,"zero":false},"axis":null},"y":{"datum":4380.0,"type":"quantitative","scale":{"domain":[4200.79,4384.82],"nice":false,"zero":false},"axis":null}}},
{"data":{"values":[{}]},"mark":{"type":"text","text":"4,328.330...","align":"left","baseline":"middle","color":"#8c5cf5","fontSize":6.2,"font":"Liberation Sans"},
 "encoding":{"x":{"datum":10.96,"type":"quantitative","scale":{"domain":[-2.237,25.1],"nice":false,"zero":false},"axis":null},"y":{"datum":4380.0,"type":"quantitative","scale":{"domain":[4200.79,4384.82],"nice":false,"zero":false},"axis":null}}}
]
}
],
"config":{
"view":{"fill":"#0f0f0f","stroke":"#343842","strokeWidth":1}
}
}
